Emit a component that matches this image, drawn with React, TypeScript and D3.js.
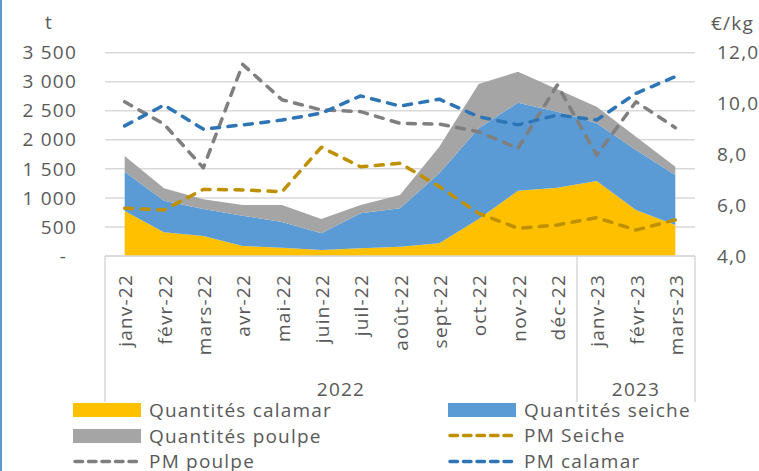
import React from "react";
import * as d3 from "d3";

const months = ["janv-22","févr-22","mars-22","avr-22","mai-22","juin-22","juil-22","août-22","sept-22","oct-22","nov-22","déc-22","janv-23","févr-23","mars-23"];
const years = [{ label: "2022", from: 0, to: 12 }, { label: "2023", from: 12, to: 15 }];

const qCalamar = [775, 408, 344, 172, 143, 103, 132, 160, 218, 635, 1125, 1177, 1291, 792, 534];
const qSeiche = [676, 544, 465, 522, 442, 287, 603, 661, 1206, 1565, 1515, 1307, 993, 1033, 860];
const qPoulpe = [270, 213, 167, 184, 293, 247, 143, 229, 458, 760, 533, 385, 286, 229, 144];

const pmSeiche = [5.88, 5.81, 6.62, 6.6, 6.53, 8.28, 7.51, 7.65, 6.73, 5.68, 5.09, 5.22, 5.51, 5.02, 5.42];
const pmPoulpe = [10.07, 9.19, 7.47, 11.54, 10.15, 9.75, 9.68, 9.22, 9.19, 8.89, 8.24, 10.73, 7.97, 10.07, 9.05];
const pmCalamar = [9.12, 9.94, 8.99, 9.16, 9.35, 9.62, 10.3, 9.9, 10.17, 9.48, 9.16, 9.55, 9.35, 10.4, 11.06];

const leftTicks = [0, 500, 1000, 1500, 2000, 2500, 3000, 3500];
const rightTicks = [4, 6, 8, 10, 12];

const FONT = "'Open Sans', sans-serif";
const LS = 1.2;
const FS = 19;
const TXT = "#595959";
const GRID = "#d9d9d9";
const C_CAL = "#ffc000";
const C_SEI = "#5b9bd5";
const C_POU = "#a5a5a5";
const L_SEI = "#bf9000";
const L_POU = "#7f7f7f";
const L_CAL = "#2e75b6";
const DASH = "8 8.5";

export default function App() {
  const W = 759, H = 471;
  const left = 105, right = 695, top = 52.7, bottom = 256;
  const x = d3.scaleBand().domain(months).range([left, right]);
  const cx = (i: number) => (x(months[i]) as number) + x.bandwidth() / 2;
  const yL = d3.scaleLinear().domain([0, 3500]).range([bottom, top]);
  const yR = d3.scaleLinear().domain([4, 12]).range([bottom, top]);

  const rows = months.map((m, i) => ({ i, calamar: qCalamar[i], seiche: qSeiche[i], poulpe: qPoulpe[i] }));
  const stack = d3.stack<any>().keys(["calamar", "seiche", "poulpe"])(rows);
  const area = d3.area<any>().x((d: any) => cx(d.data.i)).y0((d: any) => yL(d[0])).y1((d: any) => yL(d[1]));
  const areaColors = [C_CAL, C_SEI, C_POU];

  const line = (vals: number[]) => d3.line<number>().x((_, i) => cx(i)).y((v) => yR(v))(vals) as string;
  const fmtL = (v: number) => (v === 0 ? "-" : d3.format(",")(v).replace(/,/g, " "));
  const fmtR = (v: number) => v.toFixed(1).replace(".", ",");

  const lines = [
    { vals: pmSeiche, color: L_SEI },
    { vals: pmPoulpe, color: L_POU },
    { vals: pmCalamar, color: L_CAL },
  ];

  const legend = [
    { type: "rect", color: C_CAL, label: "Quantités calamar", x: 73, y: 410 },
    { type: "rect", color: C_SEI, label: "Quantités seiche", x: 448, y: 410 },
    { type: "rect", color: C_POU, label: "Quantités poulpe", x: 73, y: 436 },
    { type: "line", color: L_SEI, label: "PM Seiche", x: 448, y: 435.5 },
    { type: "line", color: L_POU, label: "PM poulpe", x: 73, y: 461.5 },
    { type: "line", color: L_CAL, label: "PM calamar", x: 448, y: 461.5 },
  ];

  const sepX = [left, ...years.map((y) => left + x.step() * y.to)];

  return (
    <svg width={W} height={H} style={{ position: "absolute", left: 0, top: 0, background: "#fff" }} fontFamily={FONT} letterSpacing={LS}>
      <rect x={0} y={0} width={W} height={H} fill="#fff" />
      <rect x={0} y={0} width={2} height={H} fill={C_SEI} />
      {leftTicks.map((t) => (
        <line key={"g" + t} x1={left} x2={right} y1={yL(t)} y2={yL(t)} stroke={GRID} strokeWidth={1.5} />
      ))}
      {stack.map((s, k) => (
        <path key={"a" + k} d={area(s) as string} fill={areaColors[k]} />
      ))}
      {lines.map((l, k) => (
        <path key={"l" + k} d={line(l.vals)} fill="none" stroke={l.color} strokeWidth={3.5} strokeDasharray={DASH} strokeLinecap="round" strokeLinejoin="round" />
      ))}
      <line x1={left} x2={right} y1={bottom} y2={bottom} stroke={GRID} strokeWidth={1.5} />
      {sepX.map((sx, k) => (
        <line key={"s" + k} x1={sx} x2={sx} y1={bottom} y2={402} stroke={GRID} strokeWidth={1.5} />
      ))}
      {leftTicks.map((t) => (
        <text key={"tl" + t} x={t === 0 ? 67 : 77} y={yL(t)} dy="0.35em" textAnchor="end" fontSize={FS} fill={TXT}>{fmtL(t)}</text>
      ))}
      {rightTicks.map((t) => (
        <text key={"tr" + t} x={717} y={yR(t)} dy="0.35em" textAnchor="start" fontSize={FS} fill={TXT}>{fmtR(t)}</text>
      ))}
      <text x={49} y={29} textAnchor="middle" fontSize={FS} fill={TXT}>t</text>
      <text x={711} y={30} textAnchor="start" fontSize={FS} fill={TXT}>€/kg</text>
      {months.map((m, i) => (
        <text key={"m" + i} transform={`translate(${cx(i) + 1},274) rotate(-90)`} textAnchor="end" dy="0.35em" fontSize={FS} fill={TXT}>{m}</text>
      ))}
      {years.map((y) => (
        <text key={y.label} x={left + x.step() * (y.from + y.to) / 2} y={396} textAnchor="middle" fontSize={FS} fill={TXT}>{y.label}</text>
      ))}
      {legend.map((l, k) => (
        <g key={"lg" + k}>
          {l.type === "rect" ? (
            <rect x={l.x} y={l.y - 7} width={68} height={14} fill={l.color} />
          ) : (
            <line x1={l.x + 2} x2={l.x + 66} y1={l.y} y2={l.y} stroke={l.color} strokeWidth={3.5} strokeDasharray="7.5 6" strokeLinecap="round" />
          )}
          <text x={l.x + 76} y={l.y} dy="0.35em" fontSize={FS} fill={TXT}>{l.label}</text>
        </g>
      ))}
    </svg>
  );
}
